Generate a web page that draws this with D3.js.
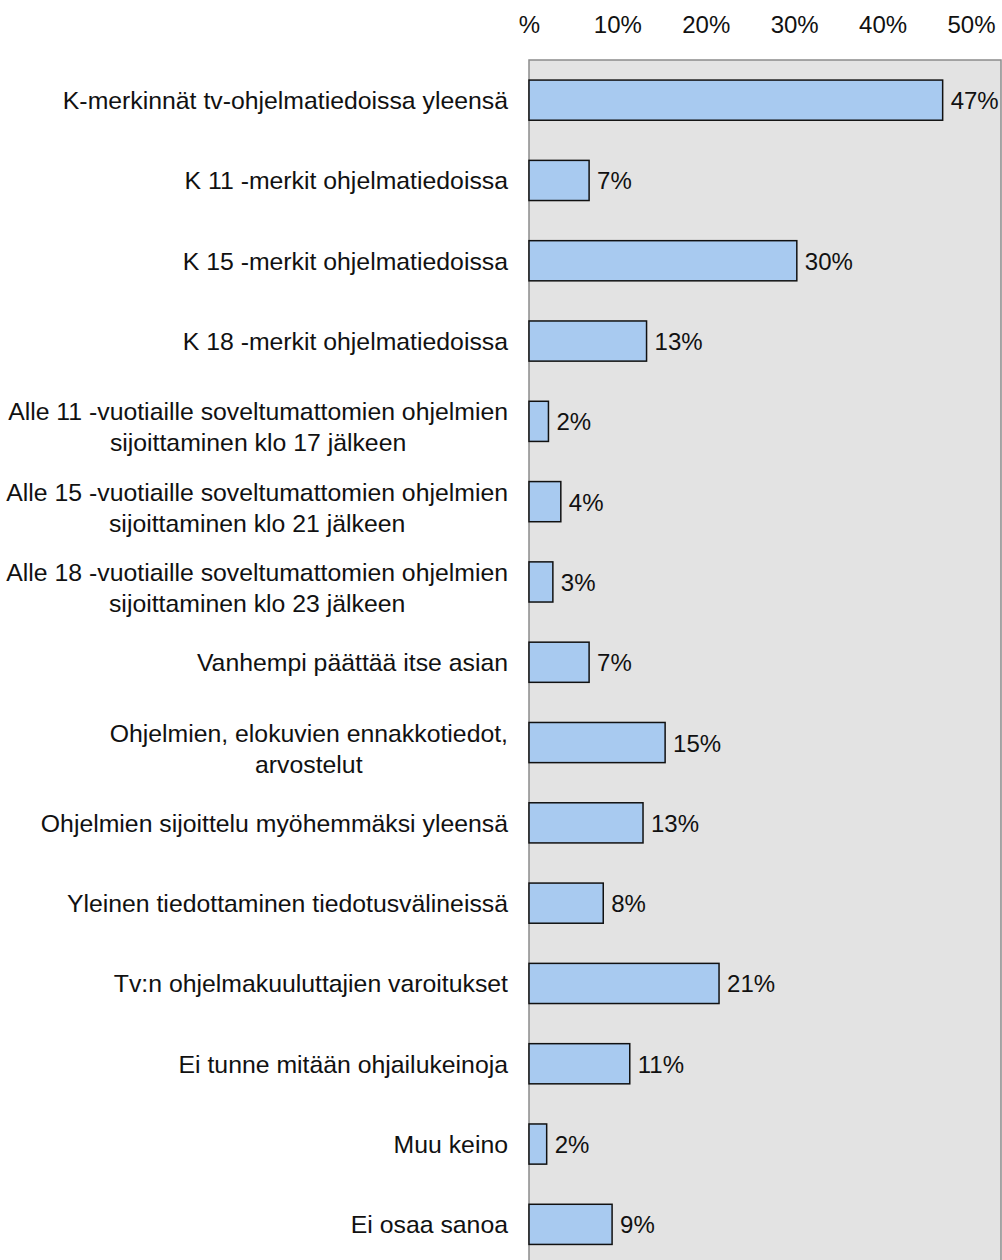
<!DOCTYPE html>
<html>
<head>
<meta charset="utf-8">
<script src="https://cdn.jsdelivr.net/npm/d3@7"></script>
<style>
  html, body { margin: 0; padding: 0; background: #fff; }
  svg { display: block; }
  text { font-family: "Liberation Sans", Arial, sans-serif; fill: #111; }
</style>
</head>
<body>
<svg id="chart" width="1002" height="1260"></svg>
<script>
const categories = [
  ["K-merkinnät tv-ohjelmatiedoissa yleensä"],
  ["K 11 -merkit ohjelmatiedoissa"],
  ["K 15 -merkit ohjelmatiedoissa"],
  ["K 18 -merkit ohjelmatiedoissa"],
  ["Alle 11 -vuotiaille soveltumattomien ohjelmien", "sijoittaminen klo 17 jälkeen"],
  ["Alle 15 -vuotiaille soveltumattomien ohjelmien", "sijoittaminen klo 21 jälkeen"],
  ["Alle 18 -vuotiaille soveltumattomien ohjelmien", "sijoittaminen klo 23 jälkeen"],
  ["Vanhempi päättää itse asian"],
  ["Ohjelmien, elokuvien ennakkotiedot,", "arvostelut"],
  ["Ohjelmien sijoittelu myöhemmäksi yleensä"],
  ["Yleinen tiedottaminen tiedotusvälineissä"],
  ["Tv:n ohjelmakuuluttajien varoitukset"],
  ["Ei tunne mitään ohjailukeinoja"],
  ["Muu keino"],
  ["Ei osaa sanoa"]
];
// bar lengths (percent)
const values = [46.8, 6.8, 30.3, 13.3, 2.2, 3.6, 2.7, 6.8, 15.4, 12.9, 8.4, 21.5, 11.4, 2.0, 9.4];
// printed value labels
const valueLabels = ["47%", "7%", "30%", "13%", "2%", "4%", "3%", "7%", "15%", "13%", "8%", "21%", "11%", "2%", "9%"];
const tickValues = [0, 10, 20, 30, 40, 50];
const tickLabels = ["%", "10%", "20%", "30%", "40%", "50%"];

const svg = d3.select("#chart");
const plotLeft = 529, plotRight = 1001, plotTop = 60;
const step = 80.3;

const x = d3.scaleLinear().domain([0, 53.4]).range([plotLeft, plotRight]);
const y = d3.scaleBand()
  .domain(d3.range(values.length))
  .range([plotTop, plotTop + step * values.length])
  .paddingInner(0.5)
  .paddingOuter(0.25);

// plot background
svg.append("rect")
  .attr("x", plotLeft).attr("y", plotTop)
  .attr("width", plotRight - plotLeft).attr("height", 1300)
  .attr("fill", "#e3e3e3")
  .attr("stroke", "#8c8c8c").attr("stroke-width", 1.5);

// top axis
const axis = d3.axisTop(x)
  .tickValues(tickValues)
  .tickFormat((d, i) => tickLabels[i])
  .tickSize(0)
  .tickPadding(0);
const ag = svg.append("g").attr("transform", "translate(0,33)").call(axis);
ag.select(".domain").remove();
ag.selectAll("text")
  .attr("y", 0).attr("dy", 0)
  .style("font-size", "24px")
  .style("font-family", '"Liberation Sans", Arial, sans-serif')
  .attr("fill", "#111");

// bars
svg.selectAll("rect.bar")
  .data(values)
  .join("rect")
  .attr("class", "bar")
  .attr("x", x(0))
  .attr("y", (d, i) => y(i))
  .attr("width", d => x(d) - x(0))
  .attr("height", y.bandwidth())
  .attr("fill", "#a8caf0")
  .attr("stroke", "#111")
  .attr("stroke-width", 1.5);

// value labels
svg.selectAll("text.val")
  .data(values)
  .join("text")
  .attr("class", "val")
  .attr("x", d => x(d) + 8)
  .attr("y", (d, i) => y(i) + y.bandwidth() / 2 + 9)
  .style("font-size", "24px")
  .text((d, i) => valueLabels[i]);

// category labels
const labelRight = 508;
categories.forEach((lines, i) => {
  const cy = y(i) + y.bandwidth() / 2;
  const g = svg.append("g");
  const texts = lines.map((ln, j) => g.append("text")
    .style("font-size", "24.8px")
    .attr("text-anchor", "middle")
    .text(ln));
  const maxW = d3.max(texts, t => t.node().getComputedTextLength());
  const cx = labelRight - maxW / 2;
  const n = lines.length;
  texts.forEach((t, j) => {
    const base = n === 1 ? cy + 9 : cy - 1 + j * 31;
    t.attr("x", cx).attr("y", base);
  });
});
</script>
</body>
</html>
